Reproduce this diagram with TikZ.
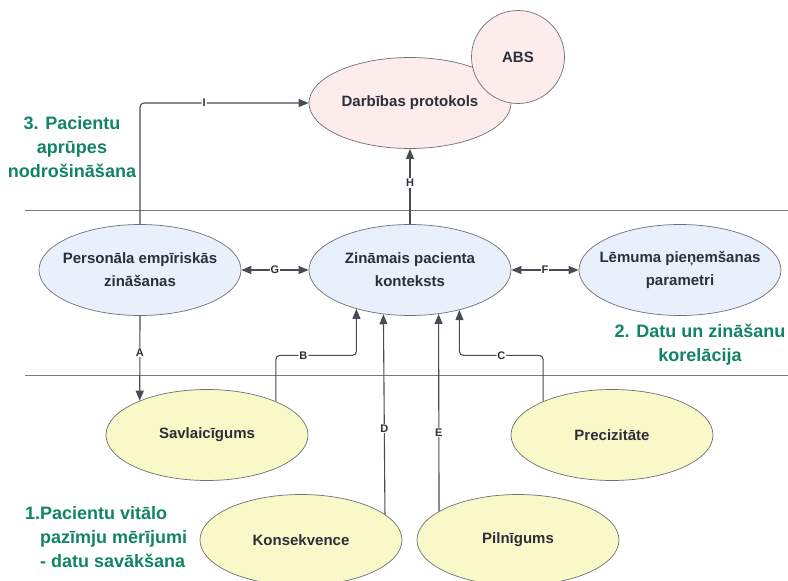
\documentclass[tikz,border=0pt]{standalone}
\usepackage{fontspec}
\setmainfont{Liberation Sans}
\usetikzlibrary{shapes.geometric,arrows.meta}
\definecolor{pinkfill}{RGB}{252,236,236}
\definecolor{bluefill}{RGB}{232,240,251}
\definecolor{yellowfill}{RGB}{249,248,200}
\definecolor{txt}{RGB}{44,47,56}
\definecolor{linec}{RGB}{72,76,84}
\definecolor{sepc}{RGB}{120,120,120}
\definecolor{phasec}{RGB}{18,132,102}
\begin{document}
\begin{tikzpicture}[x=1pt,y=-1pt,
  ell/.style={ellipse,draw=linec!80,line width=0.7pt,minimum width=202pt,minimum height=91pt,inner xsep=-30pt,inner ysep=0pt,align=center,font=\bfseries\fontsize{15}{23}\selectfont,text=txt},
  conn/.style={draw=linec,line width=1.1pt},
  arr/.style={conn,-{Triangle[length=10pt,width=8pt]}},
  darr/.style={conn,{Triangle[length=10pt,width=8pt]}-{Triangle[length=10pt,width=8pt]}},
  lab/.style={fill=white,inner sep=1pt,font=\bfseries\fontsize{11}{11}\selectfont,text=txt},
  phase/.style={font=\bfseries\fontsize{18}{24}\selectfont,text=phasec,align=center,inner sep=0pt},
  sepline/.style={draw=sepc,line width=0.9pt}
]
\useasboundingbox (0,0) rectangle (788,581);
\fill[white] (0,0) rectangle (788,581);

% separator lines
\coordinate (s1a) at (25,210); \coordinate (s1b) at (788,210);
\coordinate (s2a) at (25,375); \coordinate (s2b) at (788,375);
\draw[sepline] (s1a) -- (s1b);
\draw[sepline] (s2a) -- (s2b);

% nodes
\node[ell,fill=pinkfill] (darb) at (410,103) {Darbības protokols};
\node[circle,draw=linec!80,line width=0.7pt,fill=pinkfill,minimum size=93pt,inner sep=0pt,font=\bfseries\fontsize{15}{23}\selectfont,text=txt] (abs) at (518,57) {ABS};

\node[ell,fill=bluefill] (pers) at (140,270) {Personāla empīriskās\\zināšanas};
\node[ell,fill=bluefill] (zin) at (410,270) {Zināmais pacienta\\konteksts};
\node[ell,fill=bluefill] (lem) at (680,270) {Lēmuma pieņemšanas\\parametri};

\node[ell,fill=yellowfill] (sav) at (207,435) {Savlaicīgums};
\node[ell,fill=yellowfill] (prec) at (612,435) {Precizitāte};
\node[ell,fill=yellowfill] (kons) at (301,540) {Konsekvence};
\node[ell,fill=yellowfill] (pil) at (518,540) {Pilnīgums};

% phase labels
\node[phase] (p3) at (72,147) {3. Pacientu\\aprūpes\\nodrošināšana};
\node[phase] (p2) at (700,345) {2. Datu un zināšanu\\korelācija};
\node[phase,align=left,anchor=north west] (p1) at (25,506) {1.Pacientu vitālo\\\hspace*{15pt}pazīmju mērījumi\\\hspace*{15pt}- datu savākšana};

% connectors
\draw[arr,rounded corners=4pt] (pers.north) |- node[lab,pos=0.69]{I} (darb.west);
\draw[arr] (zin) -- node[lab,pos=0.55]{H} (darb);
\draw[darr] (pers) -- node[lab]{G} (zin);
\draw[darr] (zin) -- node[lab]{F} (lem);
\draw[arr] (pers.south) -- node[lab,pos=0.43]{A} (sav.153.1);
\draw[arr,rounded corners=4pt] (sav.26.3) -- ++(0,-46) -| node[lab,pos=0.17]{B} (zin.216.9);
\draw[arr,rounded corners=4pt] (prec.154.3) -- ++(0,-46) -| node[lab,pos=0.25]{C} (zin.321.7);
\draw[arr] (kons.17.3) -- node[lab,pos=0.43]{D} (zin.239.4);
\draw[arr] (pil.160.2) -- node[lab,pos=0.4]{E} (zin.303.6);
\end{tikzpicture}
\end{document}
